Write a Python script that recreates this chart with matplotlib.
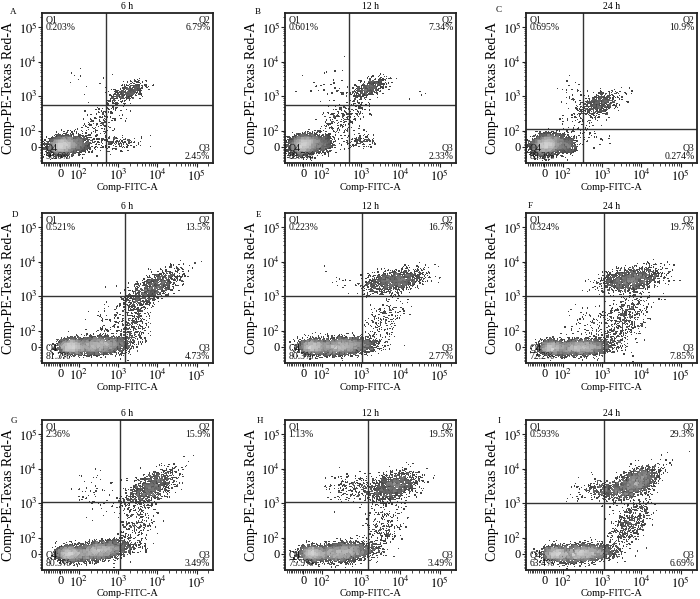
import numpy as np
import matplotlib
matplotlib.use("Agg")
import matplotlib.pyplot as plt

plt.rcParams['font.family'] = ['Liberation Serif', 'DejaVu Serif']
plt.rcParams['mathtext.fontset'] = 'stix'

# ---------------- data ----------------
panel_letters = ["A", "B", "C", "D", "E", "F", "G", "H", "I"]
titles = ["6 h", "12 h", "24 h"] * 3
q1_pct = ["0.203%", "0.601%", "0.695%", "0.521%", "0.223%", "0.324%", "2.36%", "1.13%", "0.593%"]
q2_pct = ["6.79%", "7.34%", "10.9%", "13.5%", "16.7%", "19.7%", "15.9%", "19.5%", "29.3%"]
q3_pct = ["2.45%", "2.33%", "0.274%", "4.73%", "2.77%", "7.85%", "3.49%", "3.49%", "6.69%"]
q4_pct = ["90.6%", "89.7%", "88.2%", "81.3%", "80.3%", "72.2%", "80.3%", "75.9%", "63.4%"]
gate_x = [490, 490, 325, 1550, 1050, 1100, 1100, 1550, 1100]
gate_y = [570, 570, 110, 1050, 1050, 1050, 1100, 1100, 1050]

# event populations: (centre x, centre y [decade position], spread x, spread y, correlation, events)
clusters_A = [(1.60, 1.58, 0.17, 0.12, 0.2, 5000), (2.05, 1.62, 0.15, 0.12, 0.0, 500),
              (3.25, 3.12, 0.22, 0.15, 0.6, 380), (2.60, 2.35, 0.38, 0.42, 0.75, 220),
              (2.95, 1.65, 0.30, 0.11, 0.2, 160), (2.20, 3.50, 0.30, 0.40, 0.0, 12)]
clusters_B = [(1.55, 1.60, 0.17, 0.13, 0.2, 4900), (2.00, 1.62, 0.15, 0.12, 0.0, 500),
              (3.20, 3.25, 0.22, 0.15, 0.6, 420), (2.55, 2.40, 0.38, 0.42, 0.7, 300),
              (2.95, 1.70, 0.22, 0.11, 0.2, 130), (4.50, 3.10, 0.15, 0.10, 0.0, 4),
              (2.20, 3.40, 0.30, 0.30, 0.0, 30)]
clusters_C = [(1.60, 1.60, 0.18, 0.13, 0.2, 5000), (2.10, 1.58, 0.13, 0.12, 0.0, 500),
              (2.95, 2.80, 0.26, 0.17, 0.45, 560), (2.50, 2.20, 0.32, 0.37, 0.5, 120),
              (2.20, 3.00, 0.20, 0.30, 0.0, 30), (2.90, 1.80, 0.30, 0.10, 0.0, 15)]
clusters_D = [(1.80, 1.55, 0.15, 0.10, 0.0, 2200), (2.50, 1.58, 0.35, 0.12, 0.2, 3500),
              (3.40, 2.20, 0.20, 0.40, 0.35, 330), (3.90, 3.25, 0.35, 0.28, 0.7, 950),
              (3.00, 2.40, 0.38, 0.42, 0.5, 100)]
clusters_E = [(1.75, 1.55, 0.15, 0.10, 0.0, 1800), (2.50, 1.55, 0.38, 0.12, 0.2, 3800),
              (3.55, 2.30, 0.27, 0.37, 0.5, 200), (3.85, 3.45, 0.37, 0.16, 0.4, 1170),
              (2.60, 3.40, 0.30, 0.20, 0.0, 15)]
clusters_F = [(1.70, 1.52, 0.14, 0.10, 0.0, 1500), (2.45, 1.52, 0.35, 0.11, 0.15, 3550),
              (3.55, 2.30, 0.34, 0.44, 0.5, 550), (3.75, 3.50, 0.37, 0.17, 0.35, 1380),
              (2.70, 2.20, 0.32, 0.32, 0.0, 80)]
clusters_G = [(1.75, 1.55, 0.15, 0.10, 0.0, 1800), (2.50, 1.62, 0.36, 0.13, 0.4, 3800),
              (3.50, 2.40, 0.24, 0.37, 0.4, 245), (3.85, 3.45, 0.32, 0.26, 0.6, 1110),
              (2.50, 3.30, 0.35, 0.35, 0.0, 60)]
clusters_H = [(1.75, 1.55, 0.15, 0.10, 0.0, 1700), (2.50, 1.58, 0.38, 0.13, 0.3, 3600),
              (3.60, 2.35, 0.27, 0.42, 0.4, 245), (3.85, 3.50, 0.30, 0.21, 0.4, 1150),
              (3.00, 3.45, 0.32, 0.16, 0.0, 210), (2.50, 3.40, 0.30, 0.30, 0.0, 40)]
clusters_I = [(1.80, 1.55, 0.15, 0.10, 0.0, 1300), (2.50, 1.55, 0.35, 0.12, 0.2, 3140),
              (3.70, 2.40, 0.27, 0.42, 0.6, 470), (3.85, 3.60, 0.30, 0.23, 0.6, 1750),
              (3.10, 3.40, 0.27, 0.13, 0.0, 300), (2.60, 3.40, 0.30, 0.30, 0.0, 30)]
all_clusters = [clusters_A, clusters_B, clusters_C, clusters_D, clusters_E,
                clusters_F, clusters_G, clusters_H, clusters_I]

# ---------------- layout (pixels) ----------------
W, H = 700, 599
col_left = [42, 285, 526]
row_top = [13, 213, 420]
ax_w, ax_h = 171, 150
letter_pos = [(13, 12), (258, 12), (499, 10), (15, 215), (258, 215), (530, 206),
              (14, 421), (260, 421), (499, 421)]

LINTHRESH = 100.0
LINSCALE = 0.42
A_ADJ = LINSCALE / (1 - 0.1)


def decade_to_value(d):
    t = d - (2.0 - A_ADJ)
    out = np.where(np.abs(t) <= A_ADJ, t / A_ADJ * LINTHRESH,
                   np.sign(t) * LINTHRESH * 10 ** (np.abs(t) - A_ADJ))
    return out


rng = np.random.default_rng(11)

fig = plt.figure(figsize=(W / 100, H / 100), dpi=100)
fig.patch.set_facecolor('white')

major = [0, 100, 1000, 10000, 100000]
major_lbl = ["0", r"$10^2$", r"$10^3$", r"$10^4$", r"$10^5$"]
minor = [v for v in range(-90, 100, 10) if v != 0]
for k in [100, 1000, 10000, 100000]:
    minor += [m * k for m in range(2, 10) if m * k < 262144]

for i in range(9):
    r, c = divmod(i, 3)
    left = col_left[c] / W
    bottom = 1 - (row_top[r] + ax_h) / H
    ax = fig.add_axes([left, bottom, ax_w / W, ax_h / H])

    xs, ys = [], []
    for (cx, cy, sx, sy, rho, n) in all_clusters[i]:
        cov = [[sx * sx, rho * sx * sy], [rho * sx * sy, sy * sy]]
        p = rng.multivariate_normal([cx, cy], cov, size=n)
        xs.append(p[:, 0]); ys.append(p[:, 1])
    dx = np.concatenate(xs); dy = np.concatenate(ys)
    # local density for grey shading
    bins = np.arange(0.9, 5.6, 0.045)
    Hh, ex, ey = np.histogram2d(dx, dy, bins=[bins, bins])
    ix = np.clip(np.digitize(dx, ex) - 1, 0, Hh.shape[0] - 1)
    iy = np.clip(np.digitize(dy, ey) - 1, 0, Hh.shape[1] - 1)
    dens = Hh[ix, iy]
    v = np.log1p(dens) / np.log1p(dens.max())
    g = 0.22 + 0.60 * v ** 1.6
    order = np.argsort(dens)
    xv = decade_to_value(dx)[order]
    yv = decade_to_value(dy)[order]
    cols = np.repeat(g[order][:, None], 3, axis=1)
    ax.scatter(xv, yv, s=0.9, c=cols, marker='s', linewidths=0)

    ax.set_xscale('symlog', linthresh=LINTHRESH, linscale=LINSCALE)
    ax.set_yscale('symlog', linthresh=LINTHRESH, linscale=LINSCALE)
    ax.set_xlim(-100, 262144)
    ax.set_ylim(-100, 262144)
    ax.set_xticks(major)
    ax.set_xticklabels(major_lbl)
    ax.set_yticks(major)
    ax.set_yticklabels(major_lbl)
    ax.set_xticks(minor, minor=True)
    ax.set_yticks(minor, minor=True)
    ax.tick_params(axis='both', which='major', direction='out', length=3, width=0.8,
                   labelsize=9, pad=0.5, color='#222222')
    ax.tick_params(axis='both', which='minor', direction='out', length=1.8, width=0.6,
                   color='#222222')
    for sp in ax.spines.values():
        sp.set_linewidth(1.3)
        sp.set_color('#222222')

    ax.axvline(gate_x[i], color='#333333', lw=1.0)
    ax.axhline(gate_y[i], color='#333333', lw=1.0)

    kw = dict(transform=ax.transAxes, fontsize=7, linespacing=0.85, color='#111111')
    ax.text(0.02, 0.985, "Q1\n" + q1_pct[i], ha='left', va='top', **kw)
    ax.text(0.985, 0.985, "Q2\n" + q2_pct[i], ha='right', va='top', **kw)
    ax.text(0.985, 0.015, "Q3\n" + q3_pct[i], ha='right', va='bottom', **kw)
    ax.text(0.02, 0.015, "Q4\n" + q4_pct[i], ha='left', va='bottom', **kw)

    ax.set_title(titles[i], fontsize=7, pad=3)
    ax.set_ylabel("Comp-PE-Texas Red-A", fontsize=10)
    ax.yaxis.set_label_coords(-0.155, 0.5)
    ax.set_xlabel("Comp-FITC-A", fontsize=7.5, va='top')
    ax.xaxis.set_label_coords(0.5, -0.13)

    lx, ly = letter_pos[i]
    fig.text(lx / W, 1 - ly / H, panel_letters[i], fontsize=6.5, ha='center', va='center')

fig.savefig("out.png", dpi=100)
